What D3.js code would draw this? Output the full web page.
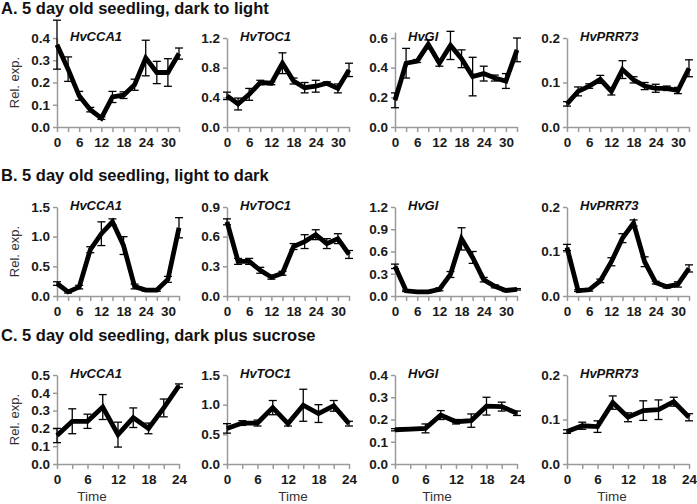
<!DOCTYPE html>
<html><head><meta charset="utf-8">
<script src="https://cdn.jsdelivr.net/npm/d3@7/dist/d3.min.js"></script>
<style>body{margin:0;background:#fff}svg{display:block}</style>
</head><body><svg id="c" width="697" height="504"></svg>
<script>
// ---- data ----
const rowTitles = ["A. 5 day old seedling, dark to light", "B. 5 day old seedling, light to dark", "C. 5 day old seedling, dark plus sucrose"];
const genes = ["HvCCA1", "HvTOC1", "HvGI", "HvPRR73"];
const timesAB = [0, 3, 6, 9, 12, 15, 18, 21, 24, 27, 30, 33];
const timesC = [0, 3, 6, 9, 12, 15, 18, 21, 24];
const xTicksAB = [0, 3, 6, 9, 12, 15, 18, 21, 24, 27, 30, 33];
const xTicksC = [0, 3, 6, 9, 12, 15, 18, 21, 24];
const xLabelsAB = [0, 6, 12, 18, 24, 30];
const xLabelsC = [0, 6, 12, 18, 24];

// Row A
const aCCA1 = [0.37, 0.26, 0.14, 0.078, 0.04, 0.135, 0.143, 0.19, 0.31, 0.245, 0.245, 0.33];
const aCCA1Err = [0.11, 0.055, 0.02, 0.01, 0.006, 0.025, 0.015, 0.025, 0.08, 0.05, 0.062, 0.025];
const aTOC1 = [0.42, 0.31, 0.44, 0.6, 0.59, 0.86, 0.62, 0.53, 0.55, 0.59, 0.52, 0.77];
const aTOC1Err = [0.05, 0.08, 0.08, 0.03, 0.02, 0.14, 0.04, 0.07, 0.08, 0.02, 0.06, 0.09];
const aGI = [0.18, 0.43, 0.445, 0.557, 0.43, 0.55, 0.46, 0.34, 0.36, 0.33, 0.31, 0.52];
const aGIErr = [0.05, 0.1, 0.01, 0.03, 0.02, 0.095, 0.06, 0.13, 0.05, 0.02, 0.05, 0.08];
const aPRR73 = [0.052, 0.08, 0.092, 0.107, 0.08, 0.129, 0.106, 0.092, 0.087, 0.087, 0.082, 0.132];
const aPRR73Err = [0.005, 0.01, 0.005, 0.009, 0.008, 0.02, 0.007, 0.008, 0.009, 0.005, 0.007, 0.019];
const aMax = [0.4, 1.2, 0.64, 0.2];
const aTicks = [[0, 0.1, 0.2, 0.3, 0.4], [0, 0.4, 0.8, 1.2], [0, 0.2, 0.4, 0.6], [0, 0.1, 0.2]];

// Row B
const bCCA1 = [0.21, 0.07, 0.15, 0.78, 1.05, 1.25, 0.85, 0.16, 0.1, 0.1, 0.28, 1.15];
const bCCA1Err = [0.03, 0.02, 0.03, 0.05, 0.2, 0.05, 0.15, 0.04, 0.02, 0.02, 0.05, 0.17];
const bTOC1 = [0.75, 0.35, 0.35, 0.26, 0.19, 0.23, 0.5, 0.55, 0.62, 0.53, 0.58, 0.42];
const bTOC1Err = [0.03, 0.03, 0.03, 0.03, 0.02, 0.02, 0.03, 0.07, 0.05, 0.05, 0.05, 0.04];
const bGI = [0.4, 0.07, 0.055, 0.055, 0.09, 0.29, 0.77, 0.52, 0.22, 0.13, 0.075, 0.09];
const bGIErr = [0.03, 0.01, 0.01, 0.01, 0.02, 0.04, 0.15, 0.08, 0.03, 0.02, 0.015, 0.01];
const bPRR73 = [0.109, 0.012, 0.014, 0.034, 0.077, 0.13, 0.164, 0.077, 0.03, 0.021, 0.026, 0.062];
const bPRR73Err = [0.007, 0.002, 0.003, 0.004, 0.009, 0.01, 0.007, 0.011, 0.003, 0.003, 0.006, 0.008];
const bMax = [1.5, 0.9, 1.2, 0.2];
const bTicks = [[0, 0.5, 1.0, 1.5], [0, 0.3, 0.6, 0.9], [0, 0.3, 0.6, 0.9, 1.2], [0, 0.1, 0.2]];

// Row C
const cCCA1 = [0.16, 0.24, 0.24, 0.32, 0.165, 0.26, 0.2, 0.315, 0.44];
const cCCA1Err = [0.04, 0.07, 0.04, 0.07, 0.07, 0.055, 0.03, 0.05, 0.01];
const cTOC1 = [0.6, 0.69, 0.69, 0.95, 0.68, 0.99, 0.85, 0.98, 0.68];
const cTOC1Err = [0.08, 0.04, 0.05, 0.12, 0.04, 0.27, 0.15, 0.09, 0.04];
const cGI = [0.154, 0.157, 0.16, 0.22, 0.19, 0.195, 0.26, 0.258, 0.228];
const cGIErr = [0.005, 0.006, 0.02, 0.02, 0.01, 0.03, 0.04, 0.02, 0.01];
const cPRR73 = [0.073, 0.086, 0.084, 0.138, 0.105, 0.12, 0.122, 0.14, 0.105];
const cPRR73Err = [0.004, 0.008, 0.013, 0.015, 0.01, 0.022, 0.022, 0.01, 0.008];
const cMax = [0.5, 1.5, 0.4, 0.2];
const cTicks = [[0, 0.1, 0.2, 0.3, 0.4, 0.5], [0, 0.5, 1.0, 1.5], [0, 0.1, 0.2, 0.3, 0.4], [0, 0.1, 0.2]];

// ---- layout ----
const colX = [57, 227, 395, 567];
const timeX = [92, 293, 437, 612];
const rowBottom = [127, 296, 464];
const plotH = 89, plotW = 122;
const titleY = [14, 181, 341];

const rows = [
  {times: timesAB, xt: xTicksAB, xl: xLabelsAB, xmax: 33, max: aMax, ticks: aTicks,
   vals: [aCCA1, aTOC1, aGI, aPRR73], errs: [aCCA1Err, aTOC1Err, aGIErr, aPRR73Err]},
  {times: timesAB, xt: xTicksAB, xl: xLabelsAB, xmax: 33, max: bMax, ticks: bTicks,
   vals: [bCCA1, bTOC1, bGI, bPRR73], errs: [bCCA1Err, bTOC1Err, bGIErr, bPRR73Err]},
  {times: timesC, xt: xTicksC, xl: xLabelsC, xmax: 24, max: cMax, ticks: cTicks,
   vals: [cCCA1, cTOC1, cGI, cPRR73], errs: [cCCA1Err, cTOC1Err, cGIErr, cPRR73Err]}
];

const svg = d3.select("#c");
const axisColor = "#9a9a9a";
const font = "Liberation Sans, Arial, sans-serif";

rows.forEach((row, r) => {
  svg.append("text").attr("x", 1).attr("y", titleY[r])
    .attr("font-family", font).attr("font-size", 16.5).attr("font-weight", "bold")
    .attr("fill", "#111").text(rowTitles[r]);

  genes.forEach((g, c) => {
    const x0 = colX[c], yb = rowBottom[r];
    const x = d3.scaleLinear().domain([0, row.xmax]).range([x0, x0 + plotW]);
    const yTopVal = row.ticks[c][row.ticks[c].length - 1];
    const yAx = d3.scaleLinear().domain([0, row.max[c]]).range([yb, yb - plotH * row.max[c] / yTopVal]);

    const gx = svg.append("g").attr("transform", `translate(0,${yb})`)
      .call(d3.axisBottom(x).tickValues(row.xt).tickSize(5).tickSizeOuter(0)
        .tickFormat(d => row.xl.includes(d) ? d : ""));
    const gy = svg.append("g").attr("transform", `translate(${x0},0)`)
      .call(d3.axisLeft(yAx).tickValues(row.ticks[c]).tickSize(4).tickSizeOuter(0)
        .tickFormat(d3.format(".1f")));
    [gx, gy].forEach(ax => {
      ax.select(".domain").attr("stroke", axisColor).attr("stroke-width", 1.5);
      ax.selectAll(".tick line").attr("stroke", axisColor).attr("stroke-width", 1.5);
      ax.selectAll(".tick text").attr("font-family", font).attr("font-size", 13.5)
        .attr("font-weight", "bold").attr("fill", "#1a1a1a");
    });
    gx.selectAll(".tick text").attr("dy", "0.9em");
    gy.selectAll(".tick text").attr("x", -7);

    // gene label
    svg.append("text").attr("x", x0 + 13).attr("y", yb - plotH + 3)
      .attr("font-family", font).attr("font-size", 13).attr("font-weight", "bold")
      .attr("font-style", "italic").attr("fill", "#111").text(g);

    const vals = row.vals[c], errs = row.errs[c];
    const pts = row.times.map((t, i) => ({t, v: vals[i], e: errs[i]}));

    const eb = svg.append("g").attr("stroke", "#000").attr("stroke-width", 1.3).attr("fill", "none");
    pts.forEach(p => {
      const px = x(p.t);
      eb.append("line").attr("x1", px).attr("x2", px).attr("y1", yAx(p.v - p.e)).attr("y2", yAx(p.v + p.e));
      eb.append("line").attr("x1", px - 4).attr("x2", px + 4).attr("y1", yAx(p.v - p.e)).attr("y2", yAx(p.v - p.e));
      eb.append("line").attr("x1", px - 4).attr("x2", px + 4).attr("y1", yAx(p.v + p.e)).attr("y2", yAx(p.v + p.e));
    });

    svg.append("path").datum(pts)
      .attr("d", d3.line().x(p => x(p.t)).y(p => yAx(p.v)))
      .attr("fill", "none").attr("stroke", "#000").attr("stroke-width", 4.8)
      .attr("stroke-linejoin", "miter").attr("stroke-miterlimit", 3);

    if (c === 0) {
      svg.append("text")
        .attr("transform", `translate(${x0 - 41},${yb - plotH / 2}) rotate(-90)`)
        .attr("text-anchor", "middle").attr("dominant-baseline", "middle")
        .attr("font-family", font).attr("font-size", 13).attr("fill", "#333").text("Rel. exp.");
    }
    if (r === 2) {
      svg.append("text").attr("x", timeX[c]).attr("y", 501)
        .attr("text-anchor", "middle").attr("font-family", font).attr("font-size", 13.5)
        .attr("fill", "#333").text("Time");
    }
  });
});
</script></body></html>
